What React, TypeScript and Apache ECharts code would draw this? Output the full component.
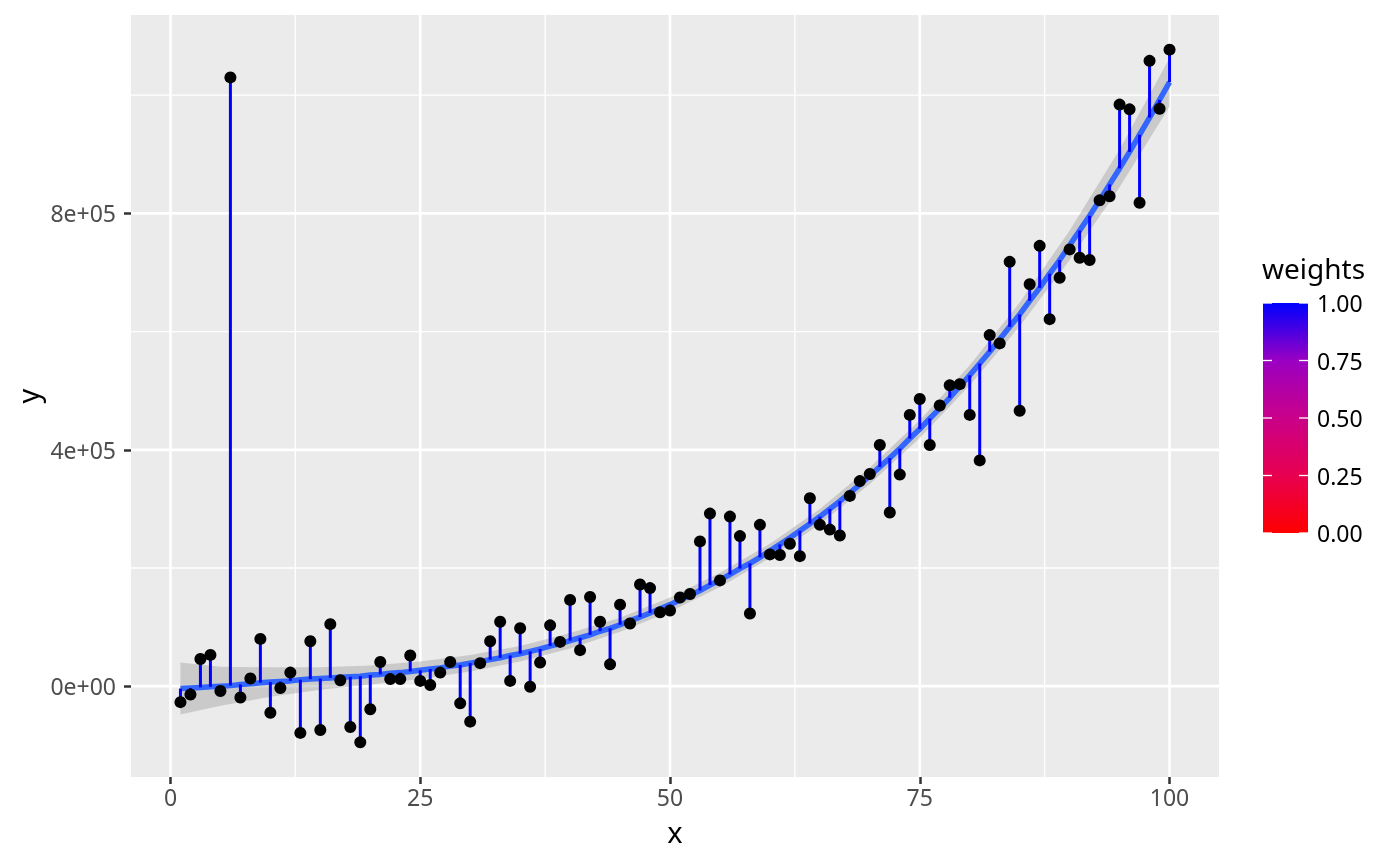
import { useEffect, useRef } from 'react';
import * as echarts from 'echarts';

const xValues = [
  1, 2, 3, 4, 5, 6, 7, 8, 9, 10, 11, 12, 13, 14, 15, 16, 17, 18, 19, 20,
  21, 22, 23, 24, 25, 26, 27, 28, 29, 30, 31, 32, 33, 34, 35, 36, 37, 38, 39, 40,
  41, 42, 43, 44, 45, 46, 47, 48, 49, 50, 51, 52, 53, 54, 55, 56, 57, 58, 59, 60,
  61, 62, 63, 64, 65, 66, 67, 68, 69, 70, 71, 72, 73, 74, 75, 76, 77, 78, 79, 80,
  81, 82, 83, 84, 85, 86, 87, 88, 89, 90, 91, 92, 93, 94, 95, 96, 97, 98, 99, 100,
];

const yValues = [
  -27000, -14000, 46000, 53000, -8000, 1030000, -19000, 13000, 80000, -45000,
  -3000, 23000, -79000, 76000, -74000, 105000, 10000, -69000, -95000, -39000,
  41000, 12000, 12000, 52000, 9000, 2000, 23000, 41000, -29000, -60000,
  39000, 76000, 109000, 9000, 98000, -1000, 40000, 103000, 75000, 146000,
  61000, 151000, 109000, 37000, 138000, 106000, 172000, 166000, 125000, 128000,
  150000, 156000, 245000, 292000, 179000, 287000, 254000, 123000, 273000, 223000,
  222000, 241000, 220000, 318000, 273000, 265000, 255000, 322000, 347000, 359000,
  408000, 294000, 358000, 459000, 486000, 408000, 475000, 509000, 511000, 459000,
  382000, 594000, 580000, 718000, 466000, 680000, 745000, 621000, 691000, 739000,
  725000, 721000, 822000, 829000, 984000, 976000, 818000, 1058000, 977000, 1077000,
];

const fittedValues = [
  -4000, -3000, -2000, -1000, 0, 1000, 3000, 4000, 6000, 7000,
  8000, 9000, 11000, 12000, 13000, 14000, 15000, 16000, 17000, 19000,
  20000, 22000, 23000, 25000, 27000, 29000, 31000, 34000, 36000, 39000,
  42000, 45000, 48000, 52000, 55000, 59000, 63000, 68000, 72000, 77000,
  82000, 87000, 93000, 98000, 104000, 111000, 117000, 124000, 131000, 138000,
  146000, 154000, 162000, 171000, 180000, 189000, 199000, 208000, 218000, 229000,
  240000, 251000, 263000, 275000, 287000, 300000, 313000, 327000, 341000, 356000,
  371000, 386000, 402000, 419000, 435000, 453000, 470000, 488000, 507000, 526000,
  546000, 566000, 587000, 608000, 629000, 652000, 674000, 698000, 721000, 746000,
  771000, 796000, 822000, 849000, 876000, 904000, 933000, 962000, 992000, 1022000,
];

const bandX = [1, 5, 10, 15, 20, 25, 30, 35, 40, 45, 50, 55, 60, 65, 70, 75, 80, 85, 90, 95, 100];
const bandLower = [
  -48000, -33000, -18000, -6000, 3000, 12000, 25000, 42000, 64000, 92000, 126000,
  168000, 217000, 274000, 342000, 420000, 509000, 609000, 721000, 844000, 981000,
];
const bandUpper = [
  40000, 33000, 32000, 32000, 35000, 42000, 53000, 68000, 90000, 116000, 150000,
  192000, 241000, 300000, 370000, 450000, 543000, 649000, 771000, 908000, 1063000,
];

const xMajorTicks = [0, 25, 50, 75, 100];
const xMinorTicks = [12.5, 37.5, 62.5, 87.5];
const yMajorTicks = [0, 400000, 800000];
const yMinorTicks = [200000, 600000, 1000000];
const yTickLabels = ['0e+00', '4e+05', '8e+05'];
const legendValues = [0, 0.25, 0.5, 0.75, 1];
const legendLabels = ['0.00', '0.25', '0.50', '0.75', '1.00'];

const FONT = 'Noto Sans';

export default function App() {
  const ref = useRef<HTMLDivElement>(null);

  useEffect(() => {
    if (!ref.current) return;
    const chart = echarts.init(ref.current, null, { renderer: 'svg' });

    const vGrid = [
      ...xMajorTicks.map((v) => [v, 0, 1]),
      ...xMinorTicks.map((v) => [v, 0, 0]),
    ];
    const hGrid = [
      ...yMajorTicks.map((v) => [0, v, 1]),
      ...yMinorTicks.map((v) => [0, v, 0]),
    ];

    // legend geometry
    const barX = 1263;
    const barW = 45;
    const barTop = 303;
    const barH = 230;

    const legendGraphics: any[] = [
      {
        type: 'text',
        x: 1262,
        y: 268,
        style: {
          text: 'weights',
          fill: '#000000',
          font: `28px "${FONT}"`,
          lineHeight: 22,
          textAlign: 'left',
          textVerticalAlign: 'middle',
        },
      },
      {
        type: 'rect',
        shape: { x: barX, y: barTop, width: barW, height: barH },
        style: {
          fill: new echarts.graphic.LinearGradient(0, 0, 0, 1, [
            { offset: 0, color: '#0000FF' },
            { offset: 0.25, color: '#9A00C3' },
            { offset: 0.5, color: '#CA0089' },
            { offset: 0.75, color: '#E80050' },
            { offset: 1, color: '#FF0000' },
          ]),
        },
      },
    ];
    legendValues.forEach((v, i) => {
      const y = barTop + barH - v * barH;
      legendGraphics.push({
        type: 'line',
        shape: { x1: barX, y1: y, x2: barX + 9, y2: y },
        style: { stroke: '#FFFFFF', lineWidth: 1.3 },
      });
      legendGraphics.push({
        type: 'line',
        shape: { x1: barX + barW - 9, y1: y, x2: barX + barW, y2: y },
        style: { stroke: '#FFFFFF', lineWidth: 1.3 },
      });
      legendGraphics.push({
        type: 'text',
        x: 1317,
        y: y,
        style: {
          text: legendLabels[i],
          fill: '#000000',
          font: `23px "${FONT}"`,
          lineHeight: 18,
          textAlign: 'left',
          textVerticalAlign: 'middle',
        },
      });
    });

    const option: any = {
      animation: false,
      textStyle: { fontFamily: FONT },
      grid: {
        left: 131,
        top: 15,
        width: 1088,
        height: 762,
        show: true,
        backgroundColor: '#EBEBEB',
        borderWidth: 0,
      },
      xAxis: {
        type: 'value',
        min: -3.95,
        max: 104.95,
        axisLine: { show: false, onZero: false },
        splitLine: { show: false },
        axisTick: {
          show: true,
          customValues: xMajorTicks,
          length: 7,
          lineStyle: { color: '#333333', width: 2.5 },
        },
        axisLabel: {
          customValues: xMajorTicks,
          margin: 11,
          fontSize: 23,
          lineHeight: 18,
          color: '#4D4D4D',
          fontFamily: FONT,
        },
      },
      yAxis: {
        type: 'value',
        min: -153600,
        max: 1135600,
        axisLine: { show: false, onZero: false },
        splitLine: { show: false },
        axisTick: {
          show: true,
          customValues: yMajorTicks,
          length: 7,
          lineStyle: { color: '#333333', width: 2.5 },
        },
        axisLabel: {
          customValues: yMajorTicks,
          margin: 15,
          fontSize: 23,
          color: '#4D4D4D',
          fontFamily: FONT,
          formatter: (v: number) => {
            const idx = yMajorTicks.indexOf(v);
            return idx >= 0 ? yTickLabels[idx] : '';
          },
        },
      },
      graphic: [
        {
          type: 'text',
          x: 675,
          y: 831,
          style: {
            text: 'x',
            fill: '#000000',
            font: `29px "${FONT}"`,
            lineHeight: 20,
            textAlign: 'center',
            textVerticalAlign: 'middle',
          },
        },
        {
          type: 'text',
          x: 27,
          y: 396,
          rotation: Math.PI / 2,
          style: {
            text: 'y',
            fill: '#000000',
            font: `29px "${FONT}"`,
            lineHeight: 20,
            textAlign: 'center',
            textVerticalAlign: 'middle',
          },
        },
        ...legendGraphics,
      ],
      series: [
        {
          type: 'custom',
          z: 1,
          silent: true,
          data: vGrid,
          renderItem: (params: any, api: any) => {
            const cs = params.coordSys;
            const p = api.coord([api.value(0), 0]);
            return {
              type: 'line',
              shape: { x1: p[0], y1: cs.y, x2: p[0], y2: cs.y + cs.height },
              style: { stroke: '#FFFFFF', lineWidth: api.value(2) ? 2.7 : 1.35 },
            };
          },
        },
        {
          type: 'custom',
          z: 1,
          silent: true,
          data: hGrid,
          renderItem: (params: any, api: any) => {
            const cs = params.coordSys;
            const p = api.coord([0, api.value(1)]);
            return {
              type: 'line',
              shape: { x1: cs.x, y1: p[1], x2: cs.x + cs.width, y2: p[1] },
              style: { stroke: '#FFFFFF', lineWidth: api.value(2) ? 2.7 : 1.35 },
            };
          },
        },
        {
          type: 'custom',
          z: 2,
          silent: true,
          data: [[50, 0]],
          renderItem: (_params: any, api: any) => {
            const upper = bandX.map((x, i) => api.coord([x, bandUpper[i]]));
            const lower = bandX.map((x, i) => api.coord([x, bandLower[i]])).reverse();
            return {
              type: 'polygon',
              shape: { points: [...upper, ...lower] },
              style: { fill: 'rgba(153,153,153,0.4)' },
            };
          },
        },
        {
          type: 'line',
          z: 3,
          silent: true,
          symbol: 'none',
          showSymbol: false,
          data: xValues.map((x, i) => [x, fittedValues[i]]),
          lineStyle: { color: '#3366FF', width: 5.5 },
        },
        {
          type: 'custom',
          z: 4,
          silent: true,
          data: xValues.map((x, i) => [x, yValues[i], fittedValues[i]]),
          encode: { x: 0, y: [1, 2] },
          renderItem: (_params: any, api: any) => {
            const p1 = api.coord([api.value(0), api.value(1)]);
            const p2 = api.coord([api.value(0), api.value(2)]);
            return {
              type: 'line',
              shape: { x1: p1[0], y1: p1[1], x2: p2[0], y2: p2[1] },
              style: { stroke: '#0000FF', lineWidth: 3 },
            };
          },
        },
        {
          type: 'scatter',
          z: 5,
          silent: true,
          symbolSize: 12,
          itemStyle: { color: '#000000', opacity: 1 },
          data: xValues.map((x, i) => [x, yValues[i]]),
        },
      ],
    };

    chart.setOption(option);
    return () => chart.dispose();
  }, []);

  return (
    <div
      ref={ref}
      style={{ position: 'fixed', left: 0, top: 0, width: 1400, height: 866 }}
    />
  );
}
